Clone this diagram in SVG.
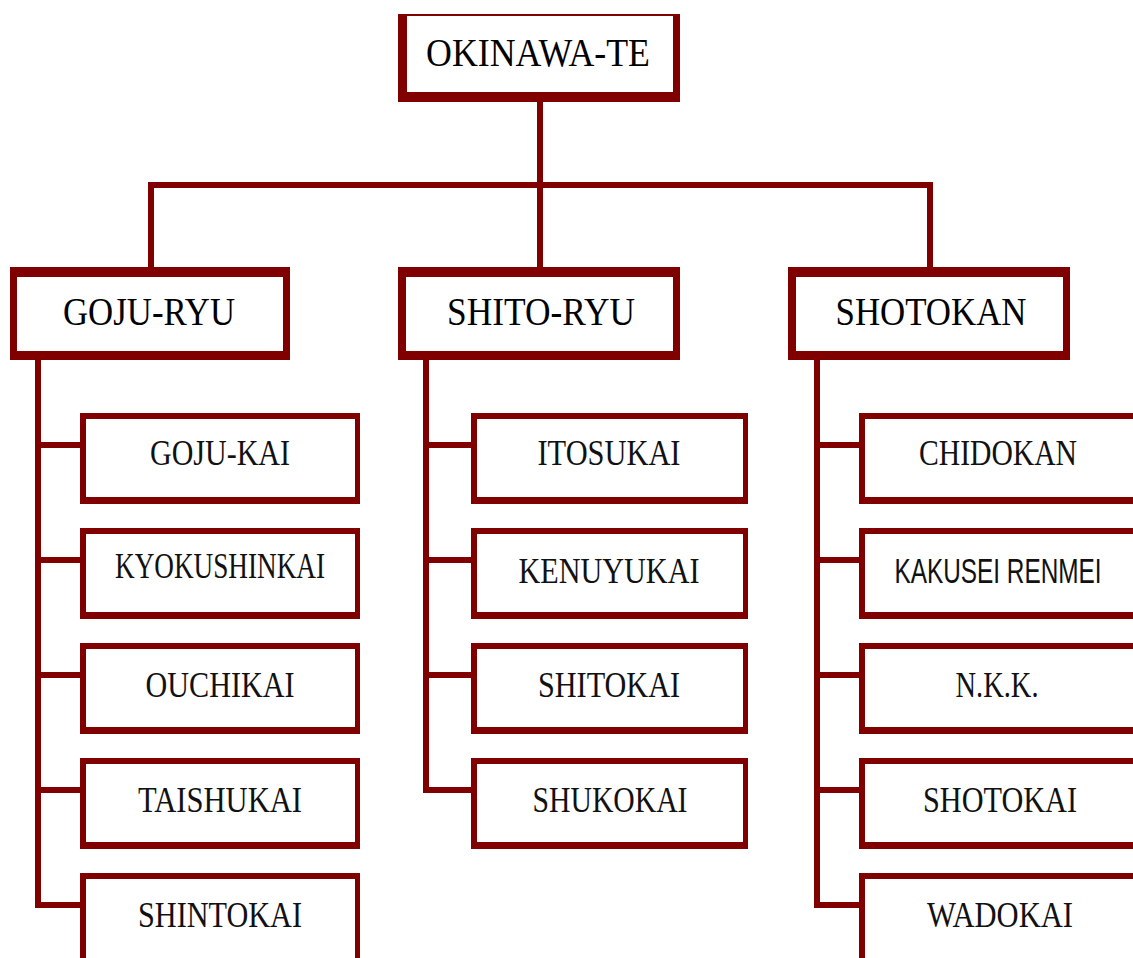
<svg xmlns="http://www.w3.org/2000/svg" width="1133" height="958" viewBox="0 0 1133 958">
<style>
.bd{fill:#800000}
.in{fill:#ffffff}
.ln{fill:none;stroke:#800000;stroke-width:6;stroke-linejoin:miter;stroke-linecap:butt}
.h{font-family:"Liberation Serif","Times New Roman",serif;font-size:40px;fill:#000;text-anchor:middle}
.c{font-family:"Liberation Serif","Times New Roman",serif;font-size:36px;fill:#111;text-anchor:middle}
.s{font-family:"Liberation Sans",Arial,sans-serif;font-size:28px;fill:#111;text-anchor:middle}
</style>
<rect x="0" y="0" width="1133" height="958" fill="#ffffff"/>
<g id="connectors">
<path class="ln" d="M540 100 V185 M151 270 V185 H930 V270 M540 185 V270"/>
<path class="ln" d="M38 358 V905 H82 M38 445 H82 M38 560 H82 M38 675 H82 M38 790 H82"/>
<path class="ln" d="M426 358 V790 H473 M426 445 H473 M426 560 H473 M426 675 H473"/>
<path class="ln" d="M817 358 V905 H861 M817 445 H861 M817 560 H861 M817 675 H861 M817 790 H861"/>
</g>
<g id="okinawa-te"><rect class="bd" x="398" y="14" width="282" height="88"/><rect class="in" x="407" y="16" width="266" height="76"/><text class="h" x="538" y="66" textLength="224" lengthAdjust="spacingAndGlyphs">OKINAWA-TE</text></g>
<g id="goju-ryu"><rect class="bd" x="10" y="267" width="280" height="93"/><rect class="in" x="17" y="277" width="266" height="74"/><text class="h" x="149" y="325" textLength="172" lengthAdjust="spacingAndGlyphs">GOJU-RYU</text></g>
<g id="shito-ryu"><rect class="bd" x="398" y="267" width="282" height="93"/><rect class="in" x="406" y="277" width="267" height="74"/><text class="h" x="541" y="325" textLength="188" lengthAdjust="spacingAndGlyphs">SHITO-RYU</text></g>
<g id="shotokan"><rect class="bd" x="788" y="267" width="282" height="93"/><rect class="in" x="796" y="277" width="267" height="74"/><text class="h" x="931" y="325" textLength="191" lengthAdjust="spacingAndGlyphs">SHOTOKAN</text></g>

<g id="goju-kai"><rect class="bd" x="80" y="413" width="280" height="91"/><rect class="in" x="86" y="419" width="269" height="78"/><text class="c" x="220" y="465" textLength="140" lengthAdjust="spacingAndGlyphs">GOJU-KAI</text></g>
<g id="kyokushinkai"><rect class="bd" x="80" y="528" width="280" height="91"/><rect class="in" x="86" y="534" width="269" height="78"/><text class="c" x="220" y="578" textLength="210" lengthAdjust="spacingAndGlyphs">KYOKUSHINKAI</text></g>
<g id="ouchikai"><rect class="bd" x="80" y="643" width="280" height="91"/><rect class="in" x="86" y="649" width="269" height="78"/><text class="c" x="220" y="697" textLength="149" lengthAdjust="spacingAndGlyphs">OUCHIKAI</text></g>
<g id="taishukai"><rect class="bd" x="80" y="758" width="280" height="91"/><rect class="in" x="86" y="764" width="269" height="78"/><text class="c" x="220" y="812" textLength="164" lengthAdjust="spacingAndGlyphs">TAISHUKAI</text></g>
<g id="shintokai"><rect class="bd" x="80" y="873" width="280" height="85"/><rect class="in" x="86" y="879" width="269" height="79"/><text class="c" x="220" y="927" textLength="164" lengthAdjust="spacingAndGlyphs">SHINTOKAI</text></g>

<g id="itosukai"><rect class="bd" x="471" y="413" width="277" height="91"/><rect class="in" x="477" y="419" width="266" height="78"/><text class="c" x="609" y="465" textLength="143" lengthAdjust="spacingAndGlyphs">ITOSUKAI</text></g>
<g id="kenuyukai"><rect class="bd" x="471" y="528" width="277" height="91"/><rect class="in" x="477" y="534" width="266" height="78"/><text class="c" x="609" y="583" textLength="181" lengthAdjust="spacingAndGlyphs">KENUYUKAI</text></g>
<g id="shitokai"><rect class="bd" x="471" y="643" width="277" height="91"/><rect class="in" x="477" y="649" width="266" height="78"/><text class="c" x="609" y="697" textLength="142" lengthAdjust="spacingAndGlyphs">SHITOKAI</text></g>
<g id="shukokai"><rect class="bd" x="471" y="758" width="277" height="91"/><rect class="in" x="477" y="764" width="266" height="78"/><text class="c" x="610" y="812" textLength="155" lengthAdjust="spacingAndGlyphs">SHUKOKAI</text></g>

<g id="chidokan"><rect class="bd" x="859" y="413" width="274" height="91"/><rect class="in" x="865" y="419" width="268" height="78"/><text class="c" x="998" y="465" textLength="158" lengthAdjust="spacingAndGlyphs">CHIDOKAN</text></g>
<g id="kakusei-renmei"><rect class="bd" x="859" y="528" width="274" height="91"/><rect class="in" x="865" y="534" width="268" height="78"/><text class="s" transform="translate(998 583) scale(1 1.25)" x="0" y="0" textLength="207" lengthAdjust="spacingAndGlyphs">KAKUSEI RENMEI</text></g>
<g id="nkk"><rect class="bd" x="859" y="643" width="274" height="91"/><rect class="in" x="865" y="649" width="268" height="78"/><text class="c" x="997" y="697" textLength="83" lengthAdjust="spacingAndGlyphs">N.K.K.</text></g>
<g id="shotokai"><rect class="bd" x="859" y="758" width="274" height="91"/><rect class="in" x="865" y="764" width="268" height="78"/><text class="c" x="1000" y="812" textLength="154" lengthAdjust="spacingAndGlyphs">SHOTOKAI</text></g>
<g id="wadokai"><rect class="bd" x="859" y="873" width="274" height="85"/><rect class="in" x="865" y="879" width="268" height="79"/><text class="c" x="1000" y="927" textLength="146" lengthAdjust="spacingAndGlyphs">WADOKAI</text></g>
</svg>
